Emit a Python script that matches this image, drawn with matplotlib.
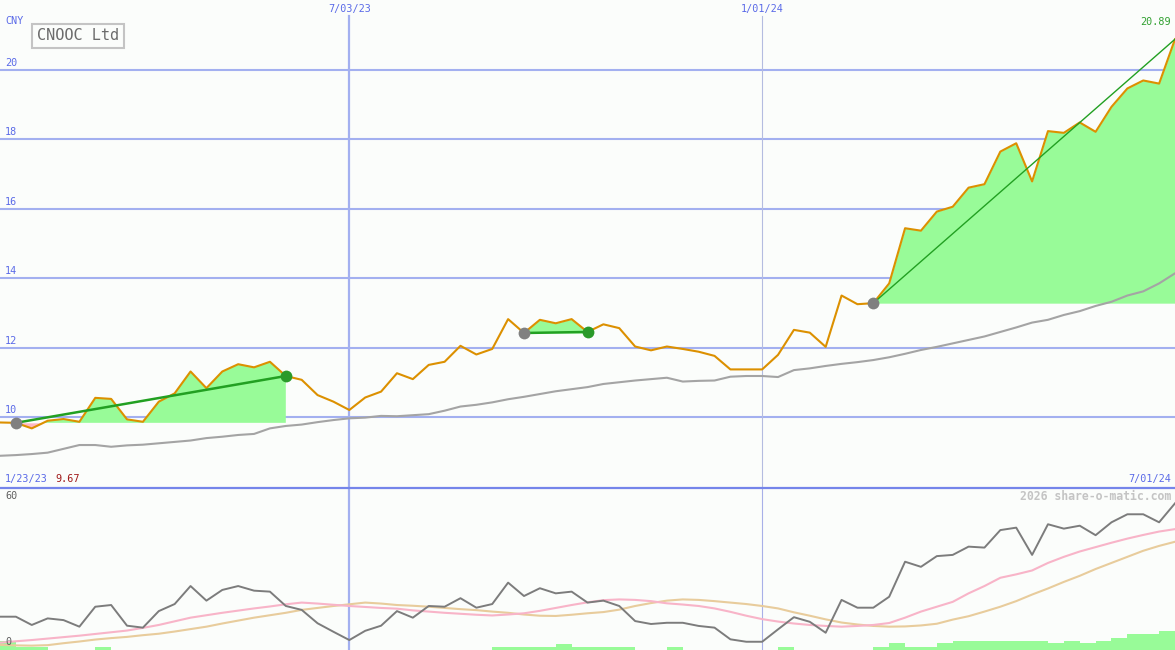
import numpy as np
import matplotlib
matplotlib.use("Agg")
import matplotlib.pyplot as plt

# weekly closes, 1/23/23 .. 7/01/24
price = [9.84, 9.83, 9.67, 9.89, 9.94, 9.86, 10.55, 10.52, 9.93, 9.86,
         10.44, 10.68, 11.31, 10.83, 11.31, 11.52, 11.43, 11.59, 11.18, 11.07,
         10.63, 10.44, 10.20, 10.56, 10.73, 11.26, 11.09, 11.50, 11.59, 12.05,
         11.80, 11.96, 12.82, 12.42, 12.80, 12.70, 12.82, 12.45, 12.67, 12.56,
         12.03, 11.92, 12.03, 11.96, 11.88, 11.76, 11.37, 11.37, 11.37, 11.79,
         12.51, 12.43, 12.02, 13.50, 13.25, 13.28, 13.85, 15.44, 15.37, 15.92,
         16.06, 16.61, 16.71, 17.65, 17.89, 16.79, 18.24, 18.19, 18.49, 18.22,
         18.94, 19.47, 19.70, 19.61, 20.89]

# long moving average (grey)
ma_long = [8.88, 8.90, 8.93, 8.97, 9.08, 9.19, 9.19, 9.14, 9.18, 9.20,
           9.24, 9.28, 9.32, 9.39, 9.43, 9.48, 9.51, 9.67, 9.74, 9.78,
           9.85, 9.91, 9.96, 9.98, 10.03, 10.02, 10.05, 10.08, 10.18, 10.30,
           10.35, 10.42, 10.51, 10.58, 10.66, 10.74, 10.80, 10.86, 10.95, 11.00,
           11.05, 11.09, 11.13, 11.02, 11.04, 11.05, 11.16, 11.18, 11.18, 11.15,
           11.35, 11.40, 11.47, 11.53, 11.58, 11.64, 11.72, 11.82, 11.93, 12.02,
           12.12, 12.22, 12.32, 12.45, 12.58, 12.72, 12.80, 12.94, 13.05, 13.20,
           13.32, 13.50, 13.62, 13.85, 14.14]

# lower panel oscillator
osc = [10.4, 10.4, 7.0, 9.7, 9.0, 6.3, 14.5, 15.2, 6.7, 5.9,
       12.7, 15.6, 23.0, 17.0, 21.4, 23.0, 21.1, 20.7, 14.8, 13.2,
       7.7, 4.2, 0.8, 4.6, 6.7, 12.7, 10.0, 14.8, 14.5, 18.0,
       14.1, 15.6, 24.4, 18.9, 22.1, 20.0, 20.7, 16.2, 17.0, 14.8,
       8.6, 7.4, 7.9, 7.9, 6.6, 5.9, 1.1, 0.1, 0.1, 5.2,
       10.2, 8.3, 3.8, 17.3, 14.1, 14.1, 18.6, 33.0, 30.9, 35.3,
       35.8, 39.2, 38.8, 46.0, 47.0, 35.8, 48.4, 46.6, 47.8, 43.9,
       49.2, 52.5, 52.5, 49.2, 57.0]

osc_fast = [-0.3, 0.3, 0.8, 1.4, 2.0, 2.6, 3.3, 4.0, 4.7, 5.8,
            7.0, 8.5, 10.0, 11.0, 12.0, 12.9, 13.8, 14.6, 15.5, 16.2,
            15.8, 15.3, 14.8, 14.4, 14.0, 13.7, 13.0, 12.5, 12.0, 11.6,
            11.2, 10.9, 11.3, 11.8, 12.8, 14.0, 15.2, 16.3, 17.2, 17.5,
            17.3, 16.8, 15.9, 15.4, 14.8, 13.8, 12.4, 10.8, 9.4, 8.4,
            7.6, 7.0, 6.6, 6.3, 6.6, 7.0, 7.8, 10.0, 12.5, 14.5,
            16.5, 20.0, 23.0, 26.4, 27.8, 29.4, 32.5, 35.0, 37.2, 39.0,
            40.8, 42.5, 44.0, 45.4, 46.4]

osc_slow = [-1.2, -1.4, -1.5, -1.3, -0.5, 0.2, 1.0, 1.6, 2.1, 2.8,
            3.4, 4.3, 5.3, 6.3, 7.6, 8.8, 10.0, 11.0, 12.0, 13.2,
            14.0, 14.8, 15.5, 16.2, 15.8, 15.2, 14.9, 14.5, 14.0, 13.5,
            13.1, 12.5, 12.0, 11.3, 10.8, 10.7, 11.2, 11.8, 12.3, 13.3,
            14.8, 16.0, 17.0, 17.5, 17.3, 16.8, 16.2, 15.6, 14.8, 13.8,
            12.2, 10.8, 9.3, 8.0, 7.2, 6.6, 6.3, 6.4, 6.8, 7.5,
            9.2, 10.6, 12.5, 14.5, 16.8, 19.5, 22.0, 24.7, 27.2, 30.0,
            32.5, 35.0, 37.5, 39.5, 41.2]

# green bars per week interval
vol = [3.7, 1.4, 1.4, 0, 0, 0, 1.4, 0, 0, 0,
       0, 0, 0, 0, 0, 0, 0, 0, 0, 0,
       0, 0, 0, 0, 0, 0, 0, 0, 0, 0,
       0, 1.4, 1.4, 1.4, 1.4, 2.5, 1.4, 1.4, 1.4, 1.4,
       0, 0, 1.4, 0, 0, 0, 0, 0, 0, 1.4,
       0, 0, 0, 0, 0, 1.4, 2.75, 1.4, 1.4, 2.75,
       3.8, 3.8, 3.8, 3.8, 3.8, 3.8, 2.75, 3.8, 2.75, 3.8,
       5.1, 6.4, 6.4, 7.9]

trend_start = [1, 33, 55]
trend_end = [18, 37, 74]

date_idx = [22, 48]
date_labels = ["7/03/23", "1/01/24"]
price_ticks = [10, 12, 14, 16, 18, 20]

BG = "#fbfdfb"
GRID = "#a3b0f0"
BLUE = "#5a6ae8"
MONO = "DejaVu Sans Mono"

x = np.arange(len(price))
p = np.array(price)

fig = plt.figure(figsize=(11.75, 6.5), dpi=100, facecolor=BG)
ax1 = fig.add_axes([0, 1 - 487 / 650, 1, 487 / 650], facecolor=BG)
ax2 = fig.add_axes([0, 0, 1, 162 / 650], facecolor=BG)
for ax in (ax1, ax2):
    ax.set_xlim(0, len(price) - 1)
    ax.set_xticks([])
    ax.set_yticks([])
    for s in ax.spines.values():
        s.set_visible(False)

# ---- top panel
ax1.set_ylim(7.98, 22.02)
for v in price_ticks:
    ax1.axhline(v, color=GRID, lw=1.5, zorder=1)
    ax1.annotate(str(v), xy=(0, v), xycoords=("axes fraction", "data"),
                 xytext=(5, 2), textcoords="offset pixels", va="bottom",
                 fontsize=7.3, family=MONO, color=BLUE)
ax1.axvline(date_idx[0], ymax=1 - 16 / 487, color=GRID, lw=1.6, zorder=1)
ax1.axvline(date_idx[1], ymax=1 - 16 / 487, color="#b4bce0", lw=0.8, zorder=1)

for s, e in zip(trend_start, trend_end):
    xs = x[s:e + 1]
    ys = p[s:e + 1]
    base = p[s]
    ax1.fill_between(xs, ys, base, where=ys >= base, interpolate=True,
                     color="#98fb98", lw=0, zorder=2)
    ax1.fill_between(xs, ys, base, where=ys < base, interpolate=True,
                     color="#ffb6c1", lw=0, zorder=2)

ax1.plot(x, ma_long, color="#a4a4a4", lw=1.5, zorder=3)
ax1.plot(x, p, color="#dc9000", lw=1.5, zorder=4)

for k, (s, e) in enumerate(zip(trend_start, trend_end)):
    lw = 1.0 if k == 2 else 1.8
    ax1.plot([s, e], [p[s], p[e]], color="#22a022", lw=lw, zorder=5)
    ax1.plot(s, p[s], "o", ms=8.5, color="#808080", mec="none", zorder=6)
    if e < len(p) - 1:
        ax1.plot(e, p[e], "o", ms=8.5, color="#2a9a2a", mec="none", zorder=6)

ax1.annotate("%.2f" % p[-1], xy=(1, p[-1]), xycoords=("axes fraction", "data"),
             xytext=(-4, 12), textcoords="offset pixels", ha="right", va="bottom",
             fontsize=7.3, family=MONO, color="#30a030")

# ---- bottom panel
lo, hi = -3.29, 63.3
ax2.set_ylim(lo, hi)
ax2.axvline(date_idx[0], color=GRID, lw=1.6, zorder=1)
ax2.axvline(date_idx[1], color="#a8b0e8", lw=0.8, zorder=1)
ax2.bar(np.arange(len(vol)) + 0.5, vol, width=1.0, bottom=lo,
        color="#98fb98", lw=0, zorder=2)
ax2.plot(x, osc_slow, color="#e8cc9c", lw=1.5, zorder=3)
ax2.plot(x, osc_fast, color="#f8b4c8", lw=1.5, zorder=3)
ax2.plot(x, osc, color="#7c7c7c", lw=1.4, zorder=4)

# ---- labels / frame
fig.add_artist(plt.Line2D([0, 1], [1 - 487.5 / 650] * 2, color="#7585ea", lw=1.6))


def px_text(px, py, s, **kw):
    fig.text(px / 1175, 1 - py / 650, s, family=MONO, **kw)


px_text(5, 21, "CNY", fontsize=7.3, color=BLUE, va="center")
for i, lab in zip(date_idx, date_labels):
    px_text(i * 1175 / (len(price) - 1), 9, lab, fontsize=7.3, color=BLUE,
            ha="center", va="center")
px_text(5, 479, "1/23/23", fontsize=7.3, color=BLUE, va="center")
px_text(55, 479, "%.2f" % min(price), fontsize=7.3, color="#a01818", va="center")
px_text(1171, 479, "7/01/24", fontsize=7.3, color=BLUE, ha="right", va="center")
px_text(5, 496, "60", fontsize=7.3, color="#606060", va="center")
px_text(5, 642, "0", fontsize=7.3, color="#606060", va="center")
px_text(1171, 496, "2026 share-o-matic.com", fontsize=8.3, color="#c4c4c4",
        ha="right", va="center", weight="bold")
fig.text(37 / 1175, 1 - 36 / 650, "CNOOC Ltd", family=MONO, fontsize=11,
         color="#6c6c6c", va="center",
         bbox=dict(boxstyle="square,pad=0.3", fc=BG, ec="#c4c4c4", lw=1.5))

fig.savefig("out.png", dpi=100, facecolor=BG)
